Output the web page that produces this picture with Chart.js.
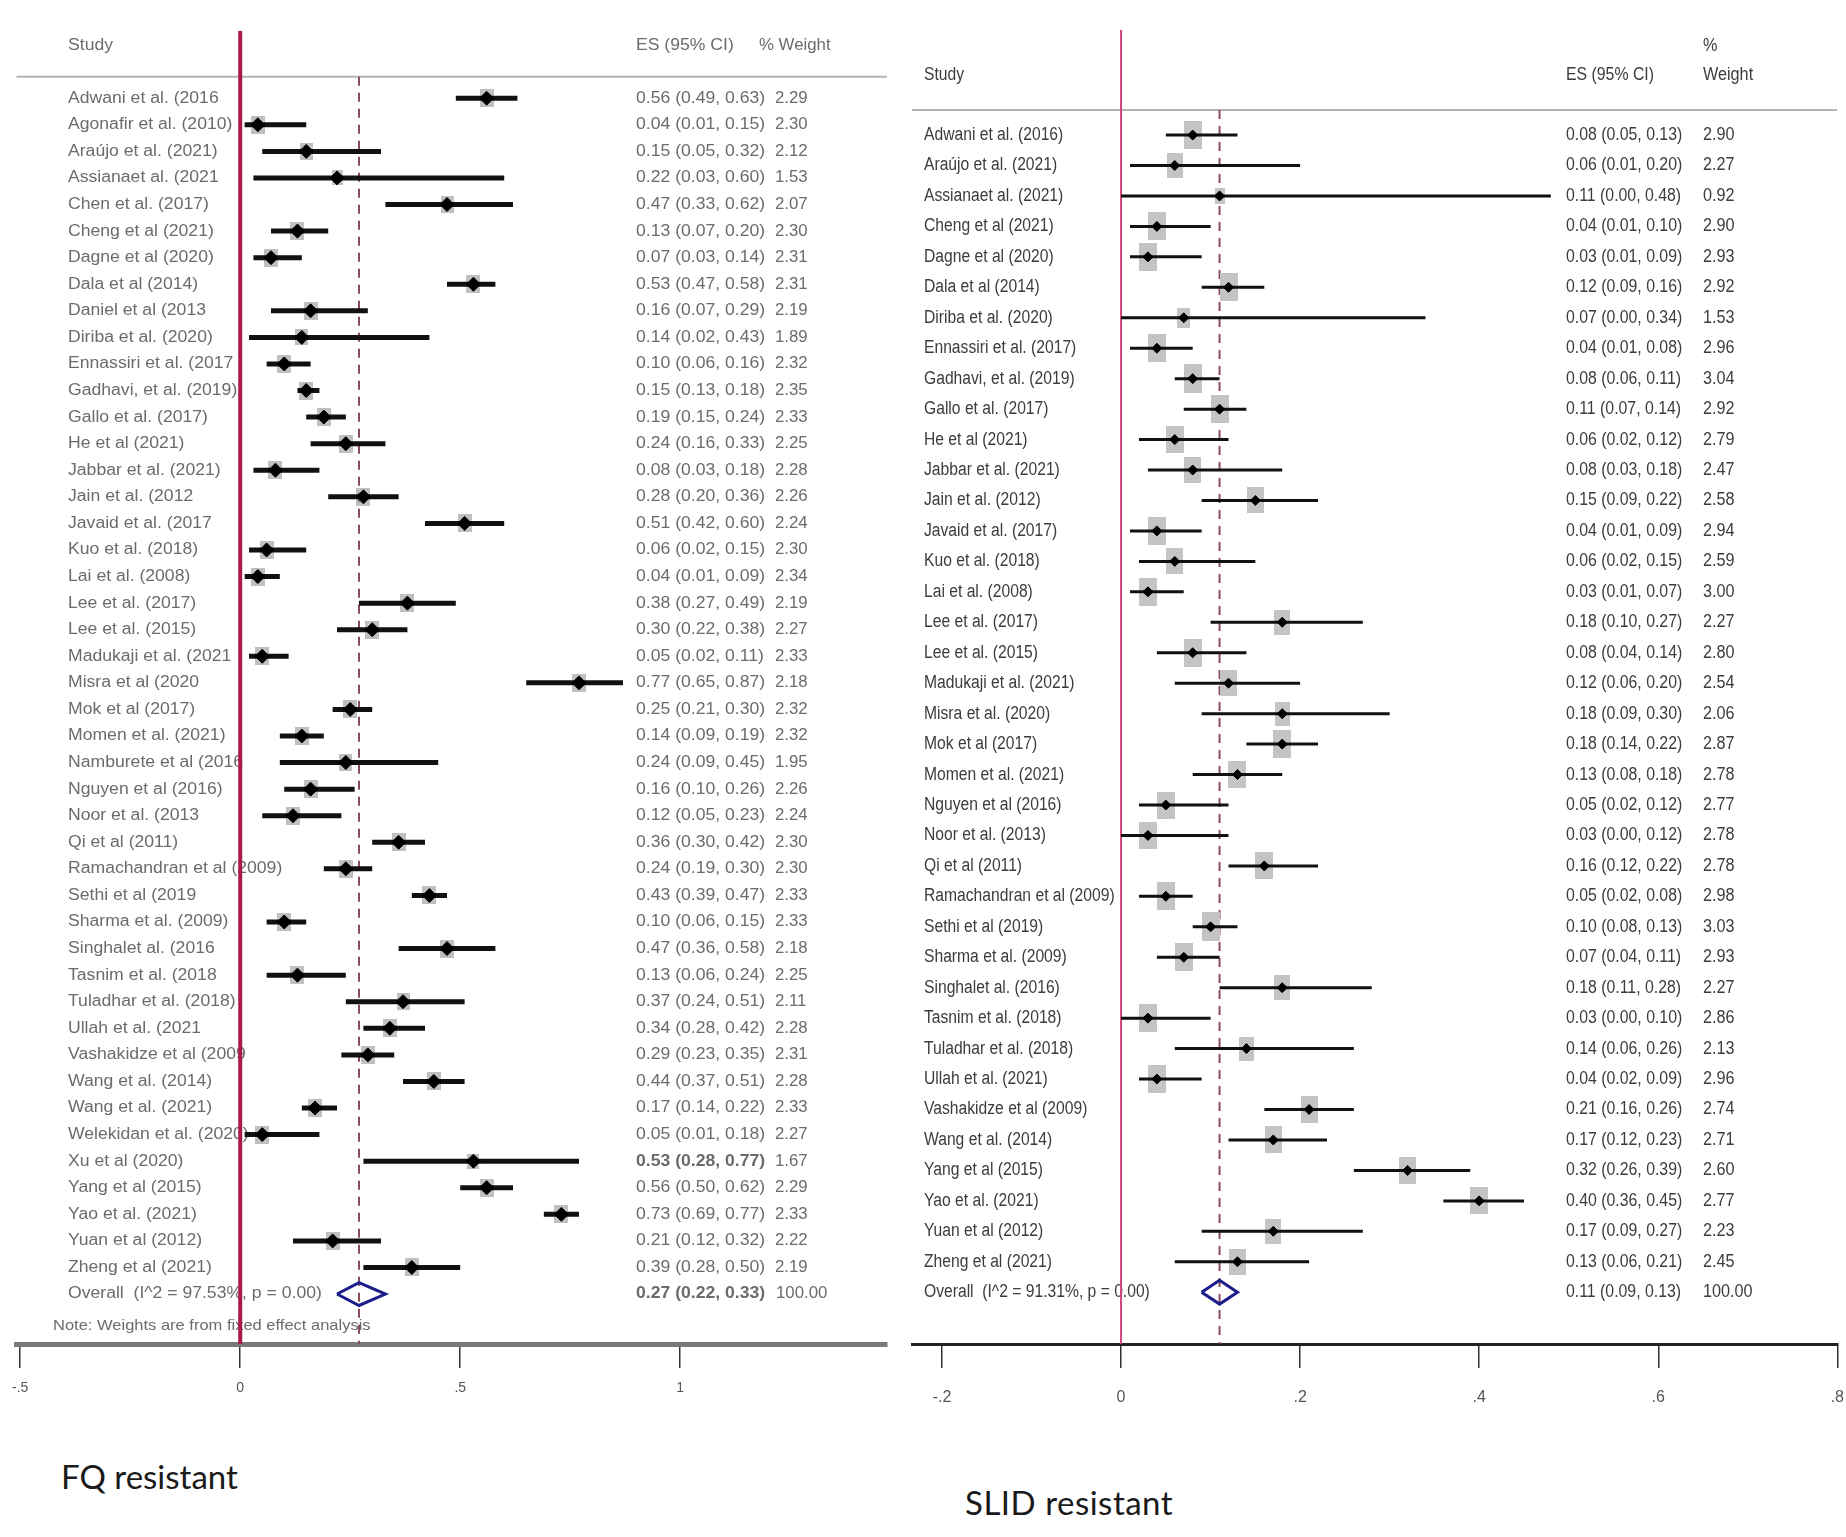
<!DOCTYPE html>
<html>
<head>
<meta charset="utf-8">
<title>FQ and SLID resistance - forest plots</title>
<script src="https://cdn.jsdelivr.net/npm/chart.js@4.4.1/dist/chart.umd.min.js"></script>
<style>
    html, body { margin: 0; padding: 0; background: #fff; }
    body { width: 1846px; height: 1537px; position: relative; overflow: hidden; }
    canvas { position: absolute; top: 2px; }
    #fqChart { left: 0; }
    #slidChart { left: 900px; }
    .caption {
        position: absolute;
        font-family: Lato, "Open Sans", sans-serif;
        font-size: 33px;
        color: #1a1a1a;
        white-space: nowrap;
    }
</style>
</head>
<body>
<canvas id="fqChart" width="892" height="1430"></canvas>
<canvas id="slidChart" width="964" height="1430"></canvas>
<div class="caption" style="left:61px; top:1456px;">FQ resistant</div>
<div class="caption" style="left:965px; top:1482px; letter-spacing:0.5px;">SLID resistant</div>

<script>
// FQ resistant data
const fqStudies = [
    'Adwani et al. (2016', 'Agonafir et al. (2010)', 'Araújo et al. (2021)', 'Assianaet al. (2021',
    'Chen et al. (2017)', 'Cheng et al (2021)', 'Dagne et al (2020)', 'Dala et al (2014)',
    'Daniel et al (2013', 'Diriba et al. (2020)', 'Ennassiri et al. (2017', 'Gadhavi, et al. (2019)',
    'Gallo et al. (2017)', 'He et al (2021)', 'Jabbar et al. (2021)', 'Jain et al. (2012',
    'Javaid et al. (2017', 'Kuo et al. (2018)', 'Lai et al. (2008)', 'Lee et al. (2017)',
    'Lee et al. (2015)', 'Madukaji et al. (2021', 'Misra et al (2020', 'Mok et al (2017)',
    'Momen et al. (2021)', 'Namburete et al (2016', 'Nguyen et al (2016)', 'Noor et al. (2013',
    'Qi et al (2011)', 'Ramachandran et al (2009)', 'Sethi et al (2019', 'Sharma et al. (2009)',
    'Singhalet al. (2016', 'Tasnim et al. (2018', 'Tuladhar et al. (2018)', 'Ullah et al. (2021',
    'Vashakidze et al (2009', 'Wang et al. (2014)', 'Wang et al. (2021)', 'Welekidan et al. (2020)',
    'Xu et al (2020)', 'Yang et al (2015)', 'Yao et al. (2021)', 'Yuan et al (2012)', 'Zheng et al (2021)'
];
const fqEs = [0.56, 0.04, 0.15, 0.22, 0.47, 0.13, 0.07, 0.53, 0.16, 0.14, 0.10, 0.15, 0.19, 0.24, 0.08,
    0.28, 0.51, 0.06, 0.04, 0.38, 0.30, 0.05, 0.77, 0.25, 0.14, 0.24, 0.16, 0.12, 0.36, 0.24,
    0.43, 0.10, 0.47, 0.13, 0.37, 0.34, 0.29, 0.44, 0.17, 0.05, 0.53, 0.56, 0.73, 0.21, 0.39];
const fqLower = [0.49, 0.01, 0.05, 0.03, 0.33, 0.07, 0.03, 0.47, 0.07, 0.02, 0.06, 0.13, 0.15, 0.16, 0.03,
    0.20, 0.42, 0.02, 0.01, 0.27, 0.22, 0.02, 0.65, 0.21, 0.09, 0.09, 0.10, 0.05, 0.30, 0.19,
    0.39, 0.06, 0.36, 0.06, 0.24, 0.28, 0.23, 0.37, 0.14, 0.01, 0.28, 0.50, 0.69, 0.12, 0.28];
const fqUpper = [0.63, 0.15, 0.32, 0.60, 0.62, 0.20, 0.14, 0.58, 0.29, 0.43, 0.16, 0.18, 0.24, 0.33, 0.18,
    0.36, 0.60, 0.15, 0.09, 0.49, 0.38, 0.11, 0.87, 0.30, 0.19, 0.45, 0.26, 0.23, 0.42, 0.30,
    0.47, 0.15, 0.58, 0.24, 0.51, 0.42, 0.35, 0.51, 0.22, 0.18, 0.77, 0.62, 0.77, 0.32, 0.50];
const fqWeights = [2.29, 2.30, 2.12, 1.53, 2.07, 2.30, 2.31, 2.31, 2.19, 1.89, 2.32, 2.35, 2.33, 2.25, 2.28,
    2.26, 2.24, 2.30, 2.34, 2.19, 2.27, 2.33, 2.18, 2.32, 2.32, 1.95, 2.26, 2.24, 2.30, 2.30,
    2.33, 2.33, 2.18, 2.25, 2.11, 2.28, 2.31, 2.28, 2.33, 2.27, 1.67, 2.29, 2.33, 2.22, 2.19];
const fqBoldRows = [40];
const fqOverall = [0.27, 0.22, 0.33];   // ES, lower, upper
const fqOverallLabel = 'Overall  (I^2 = 97.53%, p = 0.00)';
const fqNote = 'Note: Weights are from fixed effect analysis';
const fqTicks = [-0.5, 0, 0.5, 1];
const fqTickLabels = ['-.5', '0', '.5', '1'];

// SLID resistant data
const slidStudies = [
    'Adwani et al. (2016)', 'Araújo et al. (2021)', 'Assianaet al. (2021)', 'Cheng et al (2021)',
    'Dagne et al (2020)', 'Dala et al (2014)', 'Diriba et al. (2020)', 'Ennassiri et al. (2017)',
    'Gadhavi, et al. (2019)', 'Gallo et al. (2017)', 'He et al (2021)', 'Jabbar et al. (2021)',
    'Jain et al. (2012)', 'Javaid et al. (2017)', 'Kuo et al. (2018)', 'Lai et al. (2008)',
    'Lee et al. (2017)', 'Lee et al. (2015)', 'Madukaji et al. (2021)', 'Misra et al. (2020)',
    'Mok et al (2017)', 'Momen et al. (2021)', 'Nguyen et al (2016)', 'Noor et al. (2013)',
    'Qi et al (2011)', 'Ramachandran et al (2009)', 'Sethi et al (2019)', 'Sharma et al. (2009)',
    'Singhalet al. (2016)', 'Tasnim et al. (2018)', 'Tuladhar et al. (2018)', 'Ullah et al. (2021)',
    'Vashakidze et al (2009)', 'Wang et al. (2014)', 'Yang et al (2015)', 'Yao et al. (2021)',
    'Yuan et al (2012)', 'Zheng et al (2021)'
];
const slidEs = [0.08, 0.06, 0.11, 0.04, 0.03, 0.12, 0.07, 0.04, 0.08, 0.11, 0.06, 0.08, 0.15, 0.04, 0.06,
    0.03, 0.18, 0.08, 0.12, 0.18, 0.18, 0.13, 0.05, 0.03, 0.16, 0.05, 0.10, 0.07, 0.18, 0.03,
    0.14, 0.04, 0.21, 0.17, 0.32, 0.40, 0.17, 0.13];
const slidLower = [0.05, 0.01, 0.00, 0.01, 0.01, 0.09, 0.00, 0.01, 0.06, 0.07, 0.02, 0.03, 0.09, 0.01, 0.02,
    0.01, 0.10, 0.04, 0.06, 0.09, 0.14, 0.08, 0.02, 0.00, 0.12, 0.02, 0.08, 0.04, 0.11, 0.00,
    0.06, 0.02, 0.16, 0.12, 0.26, 0.36, 0.09, 0.06];
const slidUpper = [0.13, 0.20, 0.48, 0.10, 0.09, 0.16, 0.34, 0.08, 0.11, 0.14, 0.12, 0.18, 0.22, 0.09, 0.15,
    0.07, 0.27, 0.14, 0.20, 0.30, 0.22, 0.18, 0.12, 0.12, 0.22, 0.08, 0.13, 0.11, 0.28, 0.10,
    0.26, 0.09, 0.26, 0.23, 0.39, 0.45, 0.27, 0.21];
const slidWeights = [2.90, 2.27, 0.92, 2.90, 2.93, 2.92, 1.53, 2.96, 3.04, 2.92, 2.79, 2.47, 2.58, 2.94, 2.59,
    3.00, 2.27, 2.80, 2.54, 2.06, 2.87, 2.78, 2.77, 2.78, 2.78, 2.98, 3.03, 2.93, 2.27, 2.86,
    2.13, 2.96, 2.74, 2.71, 2.60, 2.77, 2.23, 2.45];
const slidOverall = [0.11, 0.09, 0.13];
const slidOverallLabel = 'Overall  (I^2 = 91.31%, p = 0.00)';
const slidTicks = [-0.2, 0, 0.2, 0.4, 0.6, 0.8];
const slidTickLabels = ['-.2', '0', '.2', '.4', '.6', '.8'];

// Format ES (95% CI) text
function ciText(es, lo, hi) {
    return `${es.toFixed(2)} (${lo.toFixed(2)}, ${hi.toFixed(2)})`;
}

// Grey weight box used as a point style
function weightBox(w, h, color) {
    const c = document.createElement('canvas');
    c.width = Math.max(1, Math.round(w));
    c.height = Math.max(1, Math.round(h));
    const g = c.getContext('2d');
    g.fillStyle = color;
    g.fillRect(0, 0, c.width, c.height);
    return c;
}

// Text drawn horizontally squeezed, like the original export
function squeezeText(ctx, text, x, y, sx) {
    ctx.save();
    ctx.translate(x, y);
    ctx.scale(sx, 1);
    ctx.fillText(text, 0, 0);
    ctx.restore();
}

function drawForestText(chart, d, s) {
    const ctx = chart.ctx;
    const y = chart.scales.y;
    const n = d.studies.length;
    ctx.save();
    ctx.textBaseline = 'middle';
    ctx.textAlign = 'left';
    ctx.fillStyle = s.textColor;
    const font = (bold) => `${bold ? 'bold ' : ''}${s.fontSize}px "Liberation Sans", Arial, sans-serif`;
    ctx.font = font(false);

    // header
    squeezeText(ctx, 'Study', s.labelX, y.getPixelForValue(s.headRow), s.labelScale);
    squeezeText(ctx, 'ES (95% CI)', s.esX, y.getPixelForValue(s.headRow), s.esScale);
    s.weightHead.forEach(h => squeezeText(ctx, h.text, s.weightHeadX, y.getPixelForValue(h.row), s.weightScale));

    // study rows
    d.studies.forEach((name, i) => {
        const py = y.getPixelForValue(i);
        const bold = (d.boldRows || []).includes(i);
        ctx.font = font(false);
        squeezeText(ctx, name, s.labelX, py, s.labelScale);
        ctx.font = font(bold);
        squeezeText(ctx, ciText(d.es[i], d.lower[i], d.upper[i]), s.esX, py, s.esScale);
        ctx.font = font(false);
        squeezeText(ctx, d.weights[i].toFixed(2), s.weightX, py, s.weightScale);
    });

    // overall row
    const py = y.getPixelForValue(n);
    ctx.font = font(false);
    squeezeText(ctx, d.overallLabel, s.labelX, py, s.labelScale);
    ctx.font = font(s.overallBold);
    squeezeText(ctx, ciText(d.overall[0], d.overall[1], d.overall[2]), s.esX, py, s.esScale);
    ctx.font = font(false);
    squeezeText(ctx, '100.00', s.overallWeightX, py, s.weightScale);

    if (d.note) {
        ctx.font = `${s.fontSize - 1}px "Liberation Sans", Arial, sans-serif`;
        squeezeText(ctx, d.note, s.noteX, y.getPixelForValue(n + 1.2), s.labelScale);
    }
    ctx.restore();
}

function makeForest(canvasId, d, s) {
    const n = d.studies.length;
    const [ovEs, ovLo, ovHi] = d.overall;

    const ciData = [];
    d.lower.forEach((lo, i) => {
        ciData.push({ x: lo, y: i }, { x: d.upper[i], y: i }, { x: null, y: null });
    });
    const pointData = d.es.map((v, i) => ({ x: v, y: i }));
    const boxes = d.weights.map(w => {
        const k = Math.sqrt(w / s.boxRef);
        return weightBox(s.boxW * k, s.boxH * k, s.boxColor);
    });
    const diamond = [
        { x: ovLo, y: n }, { x: ovEs, y: n - s.diamondH }, { x: ovHi, y: n },
        { x: ovEs, y: n + s.diamondH }, { x: ovLo, y: n }
    ];

    return new Chart(document.getElementById(canvasId), {
        type: 'scatter',
        data: {
            datasets: [
                {   // study markers
                    data: pointData, order: 1,
                    pointStyle: 'rectRot', pointRadius: s.markerR,
                    backgroundColor: '#000', borderColor: '#000', borderWidth: 1
                },
                {   // pooled diamond
                    data: diamond, order: 1, showLine: true, pointRadius: 0,
                    borderColor: '#1c1c8a', borderWidth: 3, fill: false, tension: 0
                },
                {   // confidence intervals
                    data: ciData, order: 2, showLine: true, spanGaps: false, pointRadius: 0,
                    borderColor: '#111', borderWidth: s.ciWidth, borderCapStyle: 'butt'
                },
                {   // weight boxes
                    data: pointData, order: 3, pointRadius: 3,
                    pointStyle: (ctx) => boxes[ctx.dataIndex]
                },
                {   // line of no effect
                    data: [{ x: 0, y: s.yMin }, { x: 0, y: s.yMax }], order: 4,
                    showLine: true, pointRadius: 0, borderColor: s.zeroColor, borderWidth: s.zeroWidth
                },
                {   // pooled estimate line
                    data: [{ x: ovEs, y: s.headRule }, { x: ovEs, y: s.yMax }], order: 4,
                    showLine: true, pointRadius: 0, borderColor: '#8a4a5e', borderWidth: 2,
                    borderDash: [9, 7]
                },
                {   // rule under the header
                    data: [{ x: s.xMin, y: s.headRule }, { x: s.xMax, y: s.headRule }], order: 5,
                    showLine: true, pointRadius: 0, borderColor: '#b4b4b4', borderWidth: 2
                }
            ]
        },
        options: {
            responsive: false,
            animation: false,
            events: [],
            layout: { padding: s.padding, autoPadding: false },
            plugins: { legend: { display: false }, tooltip: { enabled: false } },
            scales: {
                x: {
                    type: 'linear',
                    min: s.xMin,
                    max: s.xMax,
                    afterBuildTicks: (scale) => { scale.ticks = d.ticks.map(v => ({ value: v })); },
                    afterFit: (scale) => { scale.height = 80; },
                    ticks: {
                        autoSkip: false,
                        maxRotation: 0,
                        padding: s.tickPad,
                        color: '#555',
                        font: { size: s.tickFont, family: '"Liberation Sans", Arial, sans-serif' },
                        callback: (value) => {
                            const k = d.ticks.findIndex(t => Math.abs(t - value) < 1e-9);
                            return k >= 0 ? d.tickLabels[k] : '';
                        }
                    },
                    grid: {
                        display: true, drawOnChartArea: false, drawTicks: true,
                        tickLength: 24, color: '#333', lineWidth: 1.5
                    },
                    border: { display: true, color: s.axisColor, width: s.axisWidth }
                },
                y: {
                    type: 'linear', display: false, reverse: true,
                    min: s.yMin, max: s.yMax
                }
            }
        },
        plugins: [{
            id: 'forestText',
            beforeDatasetsDraw(chart) { drawForestText(chart, d, s); }
        }]
    });
}

document.addEventListener('DOMContentLoaded', function() {
    makeForest('fqChart', {
        studies: fqStudies, es: fqEs, lower: fqLower, upper: fqUpper, weights: fqWeights,
        boldRows: fqBoldRows, overall: fqOverall, overallLabel: fqOverallLabel, note: fqNote,
        ticks: fqTicks, tickLabels: fqTickLabels
    }, {
        xMin: -0.509, xMax: 1.47, yMin: -2.53, yMax: 46.88,
        padding: { left: 14, right: 5, top: 29, bottom: 8 },
        headRule: -0.81, headRow: -1.98,
        weightHead: [{ text: '% Weight', row: -1.98 }], weightHeadX: 759,
        labelX: 68, esX: 636, weightX: 775, overallWeightX: 776, noteX: 53,
        fontSize: 16, textColor: '#6b6b6b', labelScale: 1.1, esScale: 1.1, weightScale: 1.05,
        overallBold: true,
        markerR: 7, ciWidth: 5, boxW: 14, boxH: 18, boxRef: 2.3, boxColor: 'rgba(140,140,140,0.55)',
        diamondH: 0.43,
        zeroColor: '#a8194c', zeroWidth: 4,
        axisColor: '#7a7a7a', axisWidth: 5, tickPad: 12, tickFont: 14
    });

    makeForest('slidChart', {
        studies: slidStudies, es: slidEs, lower: slidLower, upper: slidUpper, weights: slidWeights,
        boldRows: [], overall: slidOverall, overallLabel: slidOverallLabel, note: null,
        ticks: slidTicks, tickLabels: slidTickLabels
    }, {
        xMin: -0.2335, xMax: 0.8, yMin: -3.45, yMax: 39.7,
        padding: { left: 12, right: 9, top: 28, bottom: 8 },
        headRule: -0.82, headRow: -1.97,
        weightHead: [{ text: '%', row: -2.92 }, { text: 'Weight', row: -1.97 }], weightHeadX: 803,
        labelX: 24, esX: 666, weightX: 803, overallWeightX: 803, noteX: 24,
        fontSize: 18, textColor: '#3c3c3c', labelScale: 0.87, esScale: 0.88, weightScale: 0.9,
        overallBold: false,
        markerR: 5, ciWidth: 3, boxW: 18, boxH: 28, boxRef: 2.9, boxColor: '#c4c4c4',
        diamondH: 0.39,
        zeroColor: '#d4427e', zeroWidth: 2,
        axisColor: '#222', axisWidth: 3, tickPad: 20, tickFont: 16
    });
});
</script>
</body>
</html>
